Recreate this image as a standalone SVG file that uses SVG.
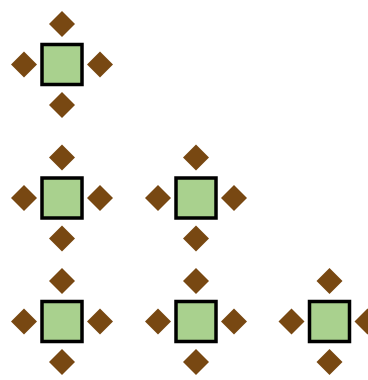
<svg xmlns="http://www.w3.org/2000/svg" xmlns:xlink="http://www.w3.org/1999/xlink" width="368" height="380" viewBox="0 0 368 380">
<style>
.sq{fill:#a9d18e;stroke:#000;stroke-width:3.5}
.dm{fill:#784812}
</style>
<defs>
<g id="unit">
<rect class="sq" x="-20" y="-20" width="40" height="40"/>
<path class="dm" d="M0,-53.5 L13,-40.5 L0,-27.5 L-13,-40.5Z"/>
<path class="dm" d="M0,27.5 L13,40.5 L0,53.5 L-13,40.5Z"/>
<path class="dm" d="M-51,0 L-38,13 L-25,0 L-38,-13Z"/>
<path class="dm" d="M25,0 L38,13 L51,0 L38,-13Z"/>
</g>
</defs>
<rect width="368" height="380" fill="#fff"/>
<g id="n1"><use xlink:href="#unit" href="#unit" x="62" y="64.5"/></g>
<g id="n2"><use xlink:href="#unit" href="#unit" x="62" y="198"/></g>
<g id="n3"><use xlink:href="#unit" href="#unit" x="196" y="198"/></g>
<g id="n4"><use xlink:href="#unit" href="#unit" x="62" y="321.5"/></g>
<g id="n5"><use xlink:href="#unit" href="#unit" x="196" y="321.5"/></g>
<g id="n6"><use xlink:href="#unit" href="#unit" x="329.5" y="321.5"/></g>
<g id="connectors"></g>
</svg>
